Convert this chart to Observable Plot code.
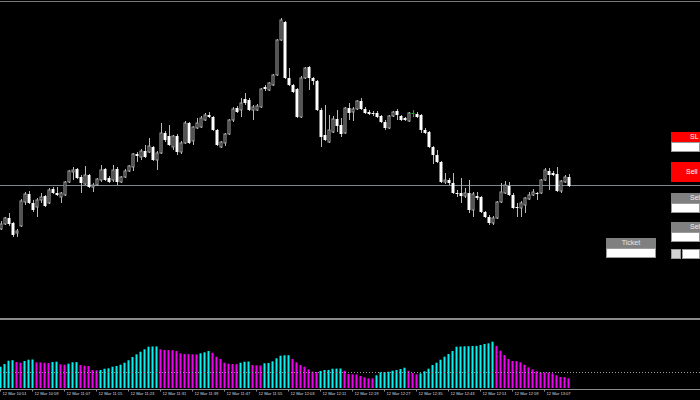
<!DOCTYPE html>
<html><head><meta charset="utf-8">
<script src="https://cdn.jsdelivr.net/npm/d3@7"></script>
<script src="https://cdn.jsdelivr.net/npm/@observablehq/plot@0.6"></script>
<style>
html,body{margin:0;padding:0;background:#000;}
#wrap{position:relative;width:700px;height:400px;overflow:hidden;background:#000;font-family:"Liberation Sans",Arial,sans-serif;}
#top,#bottom{position:absolute;left:0;}
#top{top:0;} #bottom{top:320px;}
.ln{position:absolute;left:0;width:700px;}
.box{position:absolute;box-sizing:border-box;overflow:hidden;white-space:nowrap;font-size:7px;}
.box span{position:absolute;}
</style></head><body>
<div id="wrap">
  <div id="top"></div>
  <div id="bottom"></div>
  <div class="ln" style="top:1px;height:1px;background:#7a7a7a"></div>
  <div class="ln" style="top:318px;height:2px;background:#8a8a8a"></div>

  <div class="box" style="left:671px;top:132px;width:29px;height:10px;background:#ff0000;color:#fff"><span style="left:19px;top:0;line-height:10px">SL</span></div>
  <div class="box" style="left:671px;top:142px;width:29px;height:10px;background:#fff;border:1px solid #9a9a9a"></div>
  <div class="box" style="left:671px;top:162px;width:29px;height:20px;background:#ff0000;color:#fff"><span style="left:15px;top:0;line-height:20px">Sell</span></div>
  <div class="box" style="left:671px;top:193px;width:29px;height:10px;background:#808080;color:#eee"><span style="left:19px;top:0;line-height:10px">Sel</span></div>
  <div class="box" style="left:671px;top:203px;width:29px;height:10px;background:#fff;border:1px solid #9a9a9a"></div>
  <div class="box" style="left:671px;top:222px;width:29px;height:10px;background:#808080;color:#eee"><span style="left:19px;top:0;line-height:10px">Sel</span></div>
  <div class="box" style="left:671px;top:232px;width:29px;height:10px;background:#fff;border:1px solid #9a9a9a"></div>
  <div class="box" style="left:606px;top:238px;width:50px;height:10px;background:#808080;color:#e6e6e6;text-align:center;line-height:10px">Ticket</div>
  <div class="box" style="left:606px;top:248px;width:50px;height:10px;background:#fff;border:1px solid #9a9a9a"></div>
  <div class="box" style="left:671px;top:249px;width:10px;height:10px;background:#d4d4d4;border:1px solid #9a9a9a"></div>
  <div class="box" style="left:682px;top:249px;width:18px;height:10px;background:#fff;border:1px solid #9a9a9a"></div>
</div>
<script>
// M1 candles, 12 Mar 10:51 .. 13:13
const opens = [171,176,182,177,167,174,198,206,197,193,200,204,197,211,207,203,205,218,228,231,223,216,225,213,215,220,231,222,220,231,218,223,229,233,246,243,249,248,253,240,247,267,264,253,264,248,257,277,259,272,273,280,285,283,270,253,257,266,280,292,290,301,300,290,290,293,313,310,315,325,360,378,322,315,311,283,322,333,322,319,290,265,258,268,281,275,267,292,288,291,299,291,288,287,287,284,278,272,284,289,284,282,279,287,286,285,270,268,253,245,238,218,220,217,207,207,204,207,190,204,203,188,183,177,182,198,207,214,205,193,192,195,201,205,207,207,220,229,227,226,209,218,223];
const highs = [179,183,187,178,171,201,208,209,200,202,207,205,212,213,213,208,219,230,233,232,225,234,226,217,222,235,232,224,235,233,224,231,235,247,248,251,255,262,254,249,277,269,275,265,266,259,279,278,274,282,284,287,288,284,271,259,267,281,293,294,302,307,302,295,296,312,315,318,326,361,382,379,332,316,312,324,333,334,323,320,292,295,285,284,290,282,293,297,293,300,302,293,290,289,289,285,280,285,289,291,285,283,288,290,288,286,272,269,254,250,239,227,222,227,210,222,212,220,208,208,204,189,185,184,199,217,219,218,207,197,199,203,208,211,208,221,232,232,229,233,220,225,226];
const lows = [170,175,174,163,163,173,195,196,188,183,197,193,196,206,204,197,204,217,220,221,207,215,212,208,214,218,219,217,218,215,217,222,228,229,238,240,242,247,239,230,246,258,254,250,245,246,256,256,255,271,272,279,282,269,254,252,254,265,278,287,283,295,289,280,289,292,309,309,314,324,359,321,314,307,282,282,321,310,315,289,253,259,257,267,268,263,266,280,279,290,290,286,285,284,282,277,270,271,283,280,279,279,278,283,282,267,266,252,236,237,217,216,215,206,203,197,202,187,183,200,187,182,175,175,181,197,206,204,191,183,183,187,200,204,200,206,219,210,224,208,207,217,213];
const closes = [176,182,176,165,169,199,206,197,190,200,203,194,210,207,205,207,218,229,230,222,217,225,213,215,221,230,220,218,230,218,223,229,234,246,244,249,243,254,240,247,267,260,255,264,248,257,277,257,273,277,282,285,283,270,255,258,266,280,291,288,297,297,290,293,294,311,311,317,325,360,380,322,315,308,283,322,332,322,319,290,263,260,270,281,274,266,292,287,291,299,291,287,286,286,283,278,272,284,288,285,280,280,287,287,283,270,267,253,245,238,218,220,217,207,206,204,207,190,206,202,188,183,177,182,198,208,215,205,192,192,197,202,205,208,206,220,230,225,225,209,219,223,214];
const priceLevel = 215;

// oscillator histogram (lower window)
const histogram = [21.3,24.0,27.3,27.8,26.0,25.3,27.0,28.3,28.5,25.7,25.6,25.3,25.0,26.0,26.3,23.7,23.3,24.3,25.7,25.9,23.0,22.3,22.0,18.0,17.7,18.0,19.3,19.7,21.3,22.0,23.3,25.3,27.7,31.0,33.7,36.3,38.7,41.3,41.5,41.6,38.7,38.0,37.9,37.8,37.0,34.7,34.0,33.9,33.7,33.6,34.7,35.7,37.0,35.3,31.3,29.0,25.3,24.3,24.0,23.9,25.3,26.3,26.5,23.0,22.7,22.5,24.7,25.0,26.7,29.7,32.3,32.7,32.8,29.0,25.7,23.0,21.3,18.7,16.3,16.0,17.0,18.0,18.1,19.3,19.4,19.5,17.3,14.0,13.7,13.6,12.0,10.7,9.7,9.6,12.7,15.7,16.0,16.3,17.3,18.0,19.0,20.3,17.3,15.0,13.7,14.7,16.7,19.3,23.0,25.3,28.3,31.3,34.0,37.0,41.3,41.5,41.7,41.8,42.0,42.1,43.0,44.0,44.7,46.3,42.0,37.3,33.0,29.0,27.0,26.9,25.7,23.3,20.7,18.7,16.7,15.7,15.6,15.5,14.7,12.7,11.0,10.9,9.7];
const histLevel = 16;

const timeLabels = ["12 Mar 10:51","12 Mar 10:59","12 Mar 11:07","12 Mar 11:15","12 Mar 11:23","12 Mar 11:31","12 Mar 11:39","12 Mar 11:47","12 Mar 11:55","12 Mar 12:03","12 Mar 12:11","12 Mar 12:19","12 Mar 12:27","12 Mar 12:35","12 Mar 12:43","12 Mar 12:51","12 Mar 12:59","12 Mar 13:07"];
const labelStep = 8;

const candles = opens.map((o, i) => ({i, o, h: highs[i], l: lows[i], c: closes[i]}));
const hist = histogram.map((v, i) => ({i, v, up: i === 0 || v > histogram[i - 1]}));
const xDomain = [-0.25, 174.75];

const topPlot = Plot.plot({
  width: 700, height: 320, margin: 0,
  style: {background: "transparent"},
  x: {domain: xDomain, axis: null},
  y: {domain: [80, 400], axis: null},
  marks: [
    Plot.ruleY([priceLevel], {stroke: "#7d8791", strokeWidth: 1}),
    Plot.ruleX(candles, {x: "i", y1: "l", y2: "h", strokeWidth: 1,
      stroke: d => d.o === d.c ? "#00c000" : "#b8b8b8"}),
    Plot.rect(candles.filter(d => d.c < d.o), {x1: d => d.i - 0.375, x2: d => d.i + 0.375, y1: "o", y2: "c", fill: "#ffffff"}),
    Plot.rect(candles.filter(d => d.c > d.o), {x1: d => d.i - 0.25, x2: d => d.i + 0.25, y1: "o", y2: "c", fill: "#000000", stroke: "#a8a8a8", strokeWidth: 1}),
    Plot.ruleY(candles.filter(d => d.c === d.o), {x1: d => d.i - 0.375, x2: d => d.i + 0.375, y: "o", stroke: "#00c000"})
  ]
});
document.getElementById("top").appendChild(topPlot);

const tickIdx = timeLabels.map((d, k) => k * labelStep);
const bottomPlot = Plot.plot({
  width: 700, height: 80, marginTop: 0, marginLeft: 0, marginRight: 0, marginBottom: 12,
  style: {background: "transparent", fontFamily: "Liberation Sans, Arial, sans-serif"},
  x: {domain: xDomain, axis: null},
  y: {domain: [0, 68], axis: null},
  marks: [
    Plot.rect(hist, {x1: d => d.i - 0.375, x2: d => d.i + 0.125, y1: 0, y2: "v",
      fill: d => d.up ? "#00f2f2" : "#f200f2"}),
    Plot.ruleY([histLevel], {stroke: "#9a9a9a", strokeWidth: 1, strokeDasharray: "1,2"}),
    Plot.ruleY([0], {dy: 1, stroke: "#8c8c8c"}),
    Plot.ruleX(tickIdx, {x: d => d, y1: -1.5, y2: -3.5, stroke: "#8c8c8c", dx: -1}),
    Plot.text(timeLabels, {x: (d, k) => k * labelStep, y: -5, text: d => d, textAnchor: "start",
      dx: 1, fill: "#dcdcdc", fontSize: 4.1})
  ]
});
document.getElementById("bottom").appendChild(bottomPlot);
</script>
</body></html>
